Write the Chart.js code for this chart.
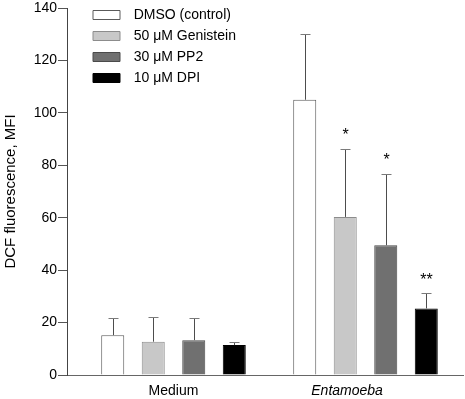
<!DOCTYPE html>
<html>
<head>
<meta charset="utf-8">
<script src="https://cdn.jsdelivr.net/npm/chart.js@4.4.1/dist/chart.umd.min.js"></script>
<style>
html,body{margin:0;padding:0;background:#fff;}
#wrap{width:465px;height:399px;position:relative;}
</style>
</head>
<body>
<div id="wrap"><canvas id="c" width="465" height="399"></canvas></div>
<script>
// ---- data ----
const categories = ['Medium', 'Entamoeba'];
const seriesNames = ['DMSO (control)', '50 \u03BCM Genistein', '30 \u03BCM PP2', '10 \u03BCM DPI'];
const dmso      = [15.2, 105.0];
const genistein = [12.7, 60.3];
const pp2       = [13.3, 49.5];
const dpi       = [11.4, 25.4];
const dmsoErr      = [6.4, 24.9];
const genisteinErr = [9.5, 26.0];
const pp2Err       = [8.3, 27.2];
const dpiErr       = [1.2, 5.8];
const dmsoSig      = ['', ''];
const genisteinSig = ['', '*'];
const pp2Sig       = ['', '*'];
const dpiSig       = ['', '**'];
const yTicks = [0, 20, 40, 60, 80, 100, 120, 140];
const yTitle = 'DCF fluorescence, MFI';

// ---- styling / layout ----
const FONT = "'Liberation Sans', Arial, Helvetica, sans-serif";
Chart.defaults.font.family = FONT;
Chart.defaults.color = '#000';
const groupPos = [1, 2];          // x positions of the groups on the linear axis
const labelPos = [1, 1.904];      // x positions of the category labels
const fills   = ['#ffffff', '#c8c8c8', '#707070', '#000000'];
const borders = ['#5a5a5a', '#8c8c8c', '#4a4a4a', '#000000'];
const values = [dmso, genistein, pp2, dpi];
const errs = [dmsoErr, genisteinErr, pp2Err, dpiErr];
const sigs = [dmsoSig, genisteinSig, pp2Sig, dpiSig];

const datasets = seriesNames.map((name, s) => ({
  label: name,
  data: values[s].map((v, i) => ({x: groupPos[i], y: v})),
  err: errs[s],
  sig: sigs[s],
  backgroundColor: fills[s],
  borderColor: borders[s],
  borderWidth: 1,
  borderSkipped: 'bottom',
  categoryPercentage: 0.9337,
  barPercentage: 0.568
}));

const errorBars = {
  id: 'errorBars',
  afterDatasetsDraw(chart) {
    const ctx = chart.ctx;
    const y = chart.scales.y;
    ctx.save();
    chart.data.datasets.forEach((ds, di) => {
      const meta = chart.getDatasetMeta(di);
      meta.data.forEach((bar, i) => {
        const v = ds.data[i].y;
        const top = y.getPixelForValue(v + ds.err[i]);
        const base = y.getPixelForValue(v);
        const x = Math.round(bar.x) + 0.5;
        ctx.strokeStyle = '#4d4d4d';
        ctx.lineWidth = 1;
        ctx.beginPath();
        ctx.moveTo(x, base);
        ctx.lineTo(x, Math.round(top) + 0.5);
        ctx.stroke();
        ctx.strokeStyle = '#7a7a7a';
        ctx.beginPath();
        ctx.moveTo(x - 5, Math.round(top) + 0.5);
        ctx.lineTo(x + 5, Math.round(top) + 0.5);
        ctx.stroke();
        if (ds.sig[i]) {
          ctx.fillStyle = '#000';
          ctx.font = '16px ' + FONT;
          ctx.textAlign = 'center';
          ctx.textBaseline = 'middle';
          ctx.fillText(ds.sig[i], x, top - 13);
        }
      });
    });
    ctx.restore();
  }
};

const legendShift = {
  id: 'legendShift',
  afterLayout(chart) {
    const lg = chart.legend;
    if (!lg) return;
    lg.left += 19; lg.right += 19;
    lg.top += 1; lg.bottom += 1;
  }
};

new Chart(document.getElementById('c'), {
  type: 'bar',
  data: { datasets },
  plugins: [errorBars, legendShift],
  options: {
    responsive: false,
    animation: false,
    events: [],
    layout: { padding: { top: 7.5, right: 2, left: 0, bottom: 0 } },
    plugins: {
      tooltip: { enabled: false },
      legend: {
        position: 'chartArea',
        align: 'start',
        labels: {
          boxWidth: 27,
          boxHeight: 9,
          padding: 7,
          color: '#000',
          font: { size: 14, family: FONT },
          generateLabels(chart) {
            return chart.data.datasets.map((ds, i) => ({
              text: ' \u2009' + ds.label,
              fillStyle: ds.backgroundColor,
              strokeStyle: ds.borderColor,
              lineWidth: 1,
              fontColor: '#000',
              hidden: false,
              datasetIndex: i
            }));
          }
        }
      }
    },
    scales: {
      x: {
        type: 'linear',
        offset: false,
        bounds: 'data',
        min: 0.4453,
        max: 2.5078,
        grid: { display: false, offset: false, drawTicks: false, tickLength: 0 },
        border: { display: true, color: '#666', width: 1 },
        afterBuildTicks(axis) { axis.ticks = labelPos.map(v => ({ value: v })); },
        afterFit(axis) { axis.height = 24; },
        ticks: {
          padding: 8,
          color: '#000',
          autoSkip: false,
          maxRotation: 0,
          font: (c) => ({ size: 14, family: FONT, style: c.index === 1 ? 'italic' : 'normal' }),
          callback: (v, i) => categories[i]
        }
      },
      y: {
        min: 0,
        max: 140,
        afterBuildTicks(axis) { axis.ticks = yTicks.map(v => ({ value: v })); },
        afterFit(axis) { axis.width = 67; },
        grid: { drawOnChartArea: false, drawTicks: true, tickLength: 9, color: '#555' },
        border: { display: true, color: '#444', width: 1 },
        ticks: {
          padding: 1,
          color: '#000',
          font: { size: 14, family: FONT, lineHeight: 1 }
        },
        title: {
          display: true,
          text: yTitle,
          color: '#000',
          font: { size: 15, family: FONT },
          padding: { top: 2, bottom: 0 }
        }
      }
    }
  }
});
</script>
</body>
</html>
